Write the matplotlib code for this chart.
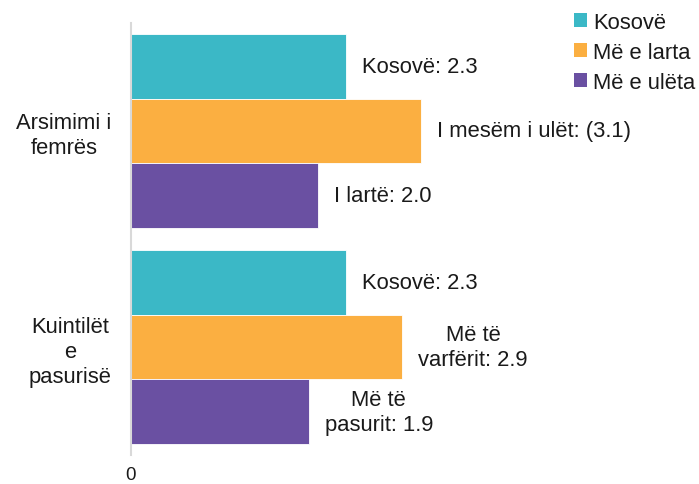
import matplotlib
matplotlib.use("Agg")
import matplotlib.pyplot as plt
from matplotlib.patches import Patch
import numpy as np

plt.rcParams['font.family'] = ['Liberation Sans', 'DejaVu Sans']

categories = ["Arsimimi i\nfemrës", "Kuintilët\ne\npasurisë"]
series_names = ["Kosovë", "Më e larta", "Më e ulëta"]
kosove = [2.3, 2.3]
me_e_larta = [3.1, 2.9]
me_e_uleta = [2.0, 1.9]
labels_kosove = ["Kosovë: 2.3", "Kosovë: 2.3"]
labels_larta = ["I mesëm i ulët: (3.1)", "Më të\nvarfërit: 2.9"]
labels_uleta = ["I lartë: 2.0", "Më të\npasurit: 1.9"]
colors = ["#3BB8C6", "#FBAF41", "#6A50A2"]

FS = 15.8
W, H = 699, 485
fig = plt.figure(figsize=(W / 100, H / 100), dpi=100)
ax = fig.add_axes([131 / W, (H - 456) / H, (692 - 131) / W, (456 - 24) / H])

y = np.arange(len(categories))
bh = 0.30
series = [kosove, me_e_larta, me_e_uleta]
labels = [labels_kosove, labels_larta, labels_uleta]
offsets = [-bh, 0, bh]
for vals, labs, off, col in zip(series, labels, offsets, colors):
    bars = ax.barh(y + off, vals, height=bh, color=col, edgecolor='white', linewidth=0.6)
    for b, v, lab in zip(bars, vals, labs):
        ax.annotate(lab, xy=(v, b.get_y() + b.get_height() / 2), xytext=(16, 0),
                    textcoords='offset pixels', ha='left', va='center',
                    multialignment='center', fontsize=FS, color='#1a1a1a',
                    linespacing=1.25)

ax.set_xlim(0, 6.0)
ax.set_ylim(1.5, -0.5)
ax.set_yticks(y)
ax.set_yticklabels(categories, multialignment='center', fontsize=FS, color='#1a1a1a',
                   linespacing=1.25)
ax.set_xticks([0])
ax.set_xticklabels(["0"], fontsize=13.5, color='#1a1a1a')
ax.tick_params(axis='y', length=0, pad=14)
ax.tick_params(axis='x', length=0, pad=8)
for s in ['top', 'right', 'bottom']:
    ax.spines[s].set_visible(False)
ax.spines['left'].set_color('#D9D9D9')
ax.spines['left'].set_linewidth(1.5)

handles = [Patch(facecolor=c, edgecolor='none') for c in colors]
fig.legend(handles, series_names, loc='upper left', bbox_to_anchor=(567 / W, 1 - 6 / H),
           frameon=False, fontsize=FS, handlelength=0.62, handleheight=0.62,
           handletextpad=0.28, labelspacing=0.42, borderaxespad=0, borderpad=0.3,
           labelcolor='#1a1a1a')

fig.savefig("out.png", dpi=100)
